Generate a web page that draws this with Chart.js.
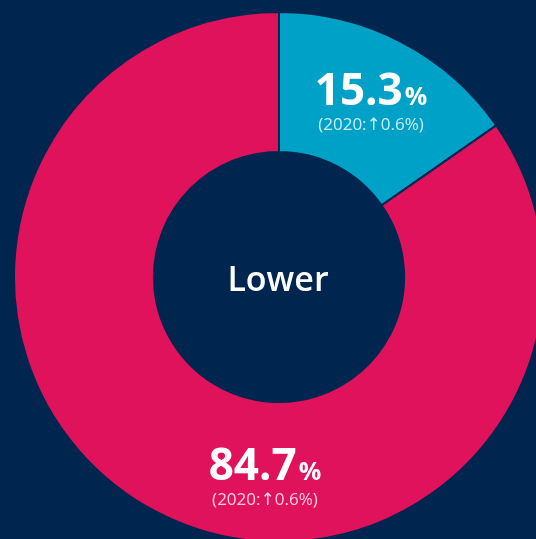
<!DOCTYPE html>
<html>
<head>
<meta charset="utf-8">
<script src="https://cdn.jsdelivr.net/npm/chart.js@4"></script>
<style>
  html, body { margin: 0; padding: 0; background: #002650; overflow: hidden; }
  #wrap { position: relative; width: 536px; height: 539px; }
</style>
</head>
<body>
<div id="wrap"><canvas id="donut"></canvas></div>
<script>
// values
const categories = ['Higher', 'Lower'];
const shares = [15.3, 84.7];
const changeNotes = ['(2020:\u21910.6%)', '(2020:\u21910.6%)'];
const centerText = 'Lower';
const sliceColors = ['#00a1c6', '#e0125b'];

const BG = '#002650';
const FONT = '"Open Sans", "Noto Sans", sans-serif';
const NOTE_FONT = '"Open Sans", "DejaVu Sans", sans-serif';

// where along each slice (0..1 of its sweep) the label sits
const labelAlong = [0.5, 0.423];

const sliceLabels = {
    id: 'sliceLabels',
    afterDatasetsDraw(chart) {
        const ctx = chart.ctx;
        const meta = chart.getDatasetMeta(0);
        ctx.save();
        meta.data.forEach((arc, i) => {
            const p = arc.getProps(['x', 'y', 'startAngle', 'endAngle', 'innerRadius', 'outerRadius'], true);
            const a = p.startAngle + (p.endAngle - p.startAngle) * labelAlong[i];
            const r = (199 / 265) * p.outerRadius;
            const cx = p.x + Math.cos(a) * r;
            const cy = p.y + Math.sin(a) * r;

            const num = shares[i].toFixed(1);
            ctx.font = 'bold 44px ' + FONT;
            const wNum = ctx.measureText(num).width;
            ctx.font = 'bold 25px ' + FONT;
            const wPct = ctx.measureText('%').width;
            const gap = 2;
            const left = cx - (wNum + gap + wPct) / 2;
            const base = cy + 4;

            ctx.fillStyle = '#ffffff';
            ctx.textAlign = 'left';
            ctx.textBaseline = 'alphabetic';
            ctx.font = 'bold 44px ' + FONT;
            ctx.fillText(num, left, base);
            ctx.font = 'bold 25px ' + FONT;
            ctx.fillText('%', left + wNum + gap, base);

            ctx.font = '17px ' + NOTE_FONT;
            ctx.fillStyle = 'rgba(255,255,255,0.8)';
            ctx.textAlign = 'center';
            ctx.fillText(changeNotes[i], cx, base + 25);
        });

        const c = meta.data[0];
        ctx.font = '600 34px ' + FONT;
        ctx.fillStyle = '#ffffff';
        ctx.textAlign = 'center';
        ctx.textBaseline = 'alphabetic';
        ctx.fillText(centerText, c.x - 1, c.y + 14);
        ctx.restore();
    }
};

new Chart(document.getElementById('donut').getContext('2d'), {
    type: 'doughnut',
    data: {
        labels: categories,
        datasets: [{
            data: shares,
            backgroundColor: sliceColors,
            borderColor: BG,
            borderWidth: 2,
            hoverOffset: 0,
            clip: false
        }]
    },
    options: {
        responsive: true,
        maintainAspectRatio: false,
        animation: false,
        radius: 265,
        cutout: '47.2%',
        layout: {
            padding: { left: 22, right: 0, top: 15, bottom: 0 }
        },
        plugins: {
            legend: { display: false },
            tooltip: { enabled: false }
        }
    },
    plugins: [sliceLabels]
});
</script>
</body>
</html>
